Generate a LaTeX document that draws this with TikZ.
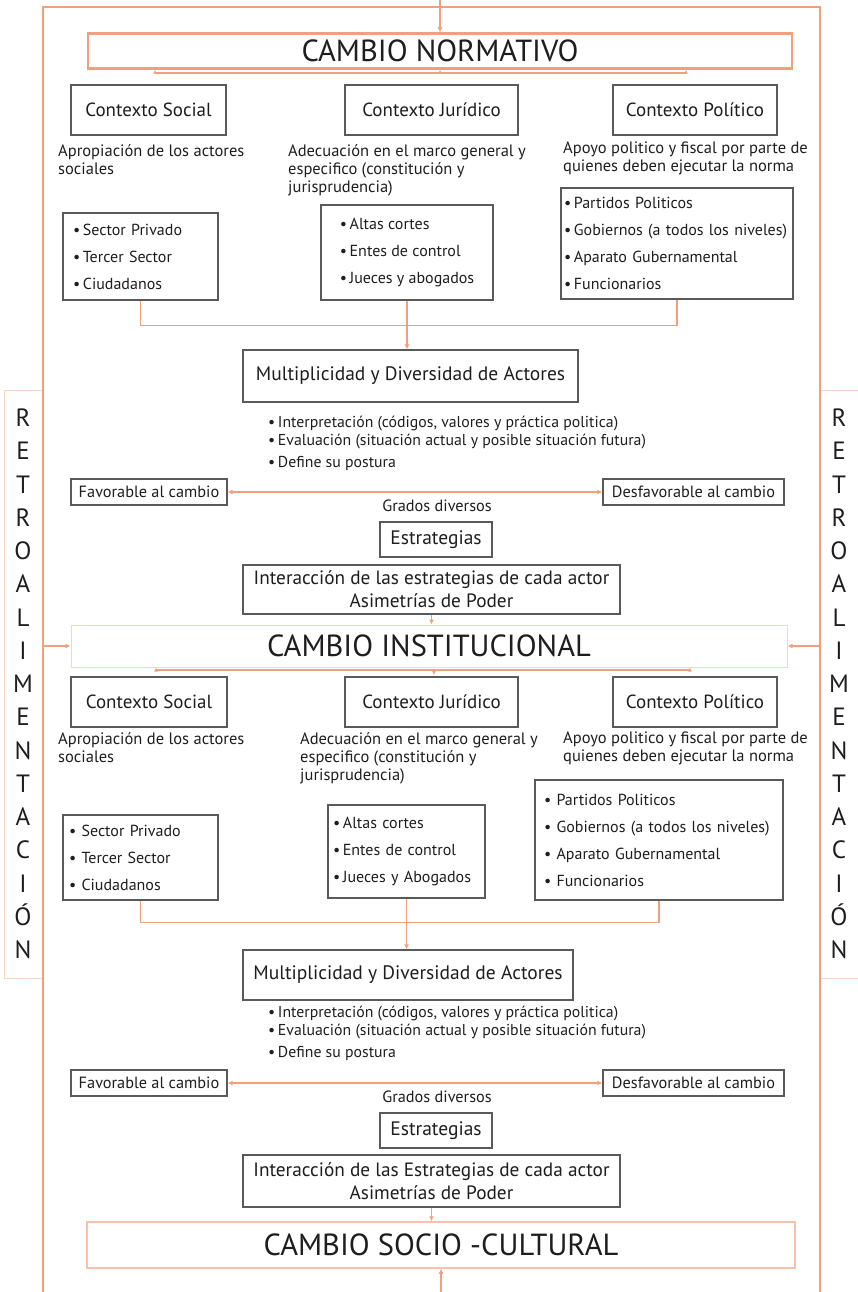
\documentclass[tikz,border=0pt]{standalone}
\usepackage{fontspec}
\setmainfont{PT Sans}
\usetikzlibrary{arrows.meta,positioning,calc}
\definecolor{Salmon}{HTML}{F2A07C}
\definecolor{Blush}{HTML}{F9D5C4}
\definecolor{Frame}{HTML}{5A5A5A}
\definecolor{Ink}{HTML}{1E1E1E}
\tikzset{
  cambio/.style={
    draw=Salmon,line width=2.5pt,fill=white,
    font=\fontsize{30.5}{33}\selectfont,text=Ink
  },
  ctx/.style={
    draw=Frame,line width=1.2pt,fill=white,inner sep=2pt,
    minimum height=50,font=\fontsize{19}{22}\selectfont,text=Ink
  },
  lst/.style={
    draw=Frame,line width=1.2pt,fill=white,align=left,
    font=\fontsize{16}{27}\selectfont,text=Ink
  },
  note/.style={
    anchor=north west,inner sep=0pt,align=left,
    font=\fontsize{16.5}{18}\selectfont,text=Ink
  },
  small/.style={font=\fontsize{16.3}{19}\selectfont},
  retro/.style={
    draw=Blush,line width=0.8pt,minimum width=38,minimum height=588,
    align=center,font=\fontsize{25}{33.25}\selectfont,text=Ink
  },
  link/.style={draw=Salmon,line width=1.6pt},
  tip/.style={-{Latex[length=5pt,width=5pt]}}
}
\begin{document}
\begin{tikzpicture}[x=1pt,y=-1pt]
  \useasboundingbox (0,0) rectangle (857,1292);

  % side feedback columns
  \node[retro] (retroL) at (23,684) {R\\E\\T\\R\\O\\A\\L\\I\\M\\E\\N\\T\\A\\C\\I\\Ó\\N};
  \node[retro] (retroR) at (839,684) {R\\E\\T\\R\\O\\A\\L\\I\\M\\E\\N\\T\\A\\C\\I\\Ó\\N};

  % outer loop
  \draw[link] (43,1292) -- (43,7) -- (820,7) -- (820,1292);

  % ---------- first stage ----------
  \node[cambio,minimum width=704,minimum height=35] (normativo) at (440,51) {CAMBIO NORMATIVO};

  \node[ctx,minimum width=155] (socA) at (148.5,110) {Contexto Social};
  \node[ctx,minimum width=173] (jurA) at (431.5,110) {Contexto Jurídico};
  \node[ctx,minimum width=164] (polA) at (695,110) {Contexto Político};

  \node[note] (socTxtA) at (58,144) {Apropiación de los actores\\sociales};
  \node[note] (jurTxtA) at (288,144) {Adecuación en el marco general y\\especifico (constitución y\\jurisprudencia)};
  \node[note] (polTxtA) at (563,142) {Apoyo politico y fiscal por parte de\\quienes deben ejecutar la norma};

  \node[lst,minimum width=155,minimum height=87,text width=135,inner xsep=10pt] (socLstA) at (140.5,256.5)
    {\textbullet\,Sector Privado\\\textbullet\,Tercer Sector\\\textbullet\,Ciudadanos};
  \node[lst,minimum width=172,minimum height=95] (jurLstA) at (407,252.5)
    {\textbullet\,Altas cortes\\\textbullet\,Entes de control\\\textbullet\,Jueces y abogados};
  \node[lst,minimum width=232,minimum height=111,text width=226,inner xsep=3pt] (polLstA) at (677,243.5)
    {\textbullet\,Partidos Politicos\\\textbullet\,Gobiernos (a todos los niveles)\\\textbullet\,Aparato Gubernamental\\\textbullet\,Funcionarios};

  \node[ctx,minimum width=335,minimum height=52,font=\fontsize{19.5}{22}\selectfont] (multA) at (410.5,376) {Multiplicidad y Diversidad de Actores};

  \node[note,font=\fontsize{15.8}{17.5}\selectfont] (postA) at (268,416)
    {\textbullet\,Interpretación (códigos, valores y práctica politica)\\\textbullet\,Evaluación (situación actual y posible situación futura)\\[5pt]\textbullet\,Define su postura};

  \node[ctx,small,minimum width=156,minimum height=26] (favA) at (149,492) {Favorable al cambio};
  \node[ctx,small,minimum width=181,minimum height=26] (desA) at (693.5,492) {Desfavorable al cambio};
  \node[inner sep=0pt,small,text=Ink] (gradA) at (437,506) {Grados diversos};

  \node[ctx,minimum width=112,minimum height=35,font=\fontsize{19.5}{22}\selectfont] (estA) at (436,539.5) {Estrategias};
  \node[ctx,minimum width=377,minimum height=49,align=center,font=\fontsize{19.3}{23}\selectfont] (interA) at (431.5,589.5)
    {Interacción de las estrategias de cada actor\\Asimetrías de Poder};

  % ---------- second stage ----------
  \node[cambio,draw=Blush,line width=1pt,minimum width=716,minimum height=42] (institucional) at (429,646) {CAMBIO INSTITUCIONAL};

  \node[ctx,minimum width=156] (socB) at (149,702) {Contexto Social};
  \node[ctx,minimum width=173] (jurB) at (431.5,702) {Contexto Jurídico};
  \node[ctx,minimum width=164] (polB) at (695,702) {Contexto Político};

  \node[note] (socTxtB) at (58,732) {Apropiación de los actores\\sociales};
  \node[note] (jurTxtB) at (300,732) {Adecuación en el marco general y\\especifico (constitución y\\jurisprudencia)};
  \node[note] (polTxtB) at (563,732) {Apoyo politico y fiscal por parte de\\quienes deben ejecutar la norma};

  \node[lst,minimum width=155,minimum height=85,text width=143,inner xsep=6pt] (socLstB) at (140.5,857.5)
    {\textbullet\,\,Sector Privado\\\textbullet\,\,Tercer Sector\\\textbullet\,\,Ciudadanos};
  \node[lst,minimum width=157,minimum height=93,text width=147,inner xsep=5pt] (jurLstB) at (406.5,851.5)
    {\textbullet\,Altas cortes\\\textbullet\,Entes de control\\\textbullet\,Jueces y Abogados};
  \node[lst,minimum width=248,minimum height=120,text width=230,inner xsep=9pt] (polLstB) at (659,840)
    {\textbullet\,\,Partidos Politicos\\\textbullet\,\,Gobiernos (a todos los niveles)\\\textbullet\,\,Aparato Gubernamental\\\textbullet\,\,Funcionarios};

  \node[ctx,minimum width=330,minimum height=50,font=\fontsize{19.5}{22}\selectfont] (multB) at (408,975) {Multiplicidad y Diversidad de Actores};

  \node[note,font=\fontsize{15.8}{17.5}\selectfont] (postB) at (268,1006)
    {\textbullet\,Interpretación (códigos, valores y práctica politica)\\\textbullet\,Evaluación (situación actual y posible situación futura)\\[5pt]\textbullet\,Define su postura};

  \node[ctx,small,minimum width=156,minimum height=26] (favB) at (149,1083) {Favorable al cambio};
  \node[ctx,small,minimum width=181,minimum height=26] (desB) at (693.5,1083) {Desfavorable al cambio};
  \node[inner sep=0pt,small,text=Ink] (gradB) at (437,1097) {Grados diversos};

  \node[ctx,minimum width=112,minimum height=35,font=\fontsize{19.5}{22}\selectfont] (estB) at (436,1130.5) {Estrategias};
  \node[ctx,minimum width=377,minimum height=52,align=center,font=\fontsize{19.3}{23}\selectfont] (interB) at (431.5,1181)
    {Interacción de las Estrategias de cada actor\\Asimetrías de Poder};

  \node[cambio,draw=Salmon!65,line width=1.5pt,minimum width=708,minimum height=46] (socio) at (441,1245) {CAMBIO SOCIO -CULTURAL};

  % ---------- connectors ----------
  \coordinate (topIn) at (440,0);
  \coordinate (botIn) at (441,1292);
  \draw[link,tip] (topIn) -- (normativo.north);
  \draw[link,tip] (botIn) -- (socio.south);

  \coordinate (nbarL) at (155,73);
  \coordinate (nbarM) at (440,73);
  \coordinate (nbarR) at (686,73);
  \draw[link,line width=1.2pt] (nbarL) -- (nbarR);
  \draw[link,line width=1pt,-{Latex[length=4pt,width=4pt]}] (nbarL) -- (nbarL |- normativo.south);
  \draw[link,line width=1pt,-{Latex[length=4pt,width=4pt]}] (nbarM) -- (nbarM |- normativo.south);
  \draw[link,line width=1pt,-{Latex[length=4pt,width=4pt]}] (nbarR) -- (nbarR |- normativo.south);

  \draw[link] (socLstA.south) -- ++(0,25) -| (polLstA.south);
  \draw[link,tip] (jurLstA.south) -- (jurLstA.south |- multA.north);
  \draw[link,{Latex[length=5pt,width=5pt]}-{Latex[length=5pt,width=5pt]}] (favA.east) -- (desA.west);
  \draw[link,tip] (interA.south) -- (interA.south |- institucional.north);

  \coordinate (feedL) at (43,646);
  \coordinate (feedR) at (820,646);
  \draw[link,tip] (feedL) -- (institucional.west);
  \draw[link,tip] (feedR) -- (institucional.east);

  \coordinate (ibarL) at (156,670);
  \coordinate (ibarM) at (434,670);
  \coordinate (ibarR) at (690,670);
  \draw[link,line width=1.2pt] (ibarL) -- (ibarR);
  \draw[link,line width=1pt,-{Latex[length=4pt,width=4pt]}] (ibarL) -- (ibarL |- institucional.south);
  \draw[link,line width=1pt,-{Latex[length=4pt,width=4pt]}] (ibarM) -- ++(0,5);
  \draw[link,line width=1pt,-{Latex[length=4pt,width=4pt]}] (ibarR) -- (ibarR |- institucional.south);

  \draw[link] (socLstB.south) -- ++(0,22) -| (polLstB.south);
  \draw[link,tip] (jurLstB.south) -- (jurLstB.south |- multB.north);
  \draw[link,{Latex[length=5pt,width=5pt]}-{Latex[length=5pt,width=5pt]}] (favB.east) -- (desB.west);
  \draw[link,tip] (interB.south) -- (interB.south |- socio.north);
\end{tikzpicture}
\end{document}
